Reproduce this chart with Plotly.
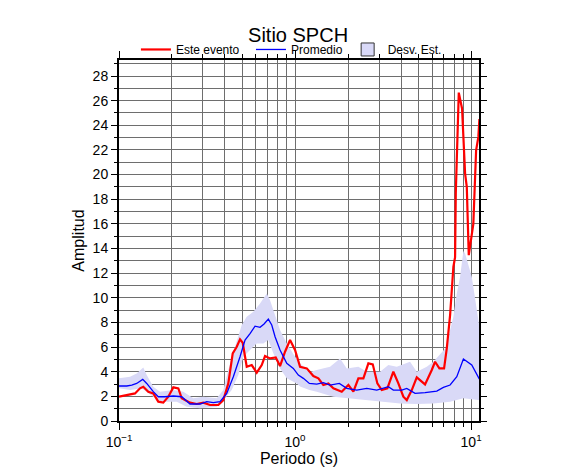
import plotly.graph_objects as go

# Este evento (red)
red_p = [0.100, 0.1155, 0.1233, 0.1316, 0.1374, 0.1467, 0.1566, 0.1672, 0.1785, 0.1906,
         0.2035, 0.2173, 0.2271, 0.2532, 0.2764, 0.3013, 0.3289, 0.3667, 0.3914, 0.4178,
         0.4426, 0.4666, 0.4870, 0.5045, 0.5316, 0.5675, 0.6059, 0.6469, 0.6753, 0.7211,
         0.7768, 0.8219, 0.8774, 0.9368, 1.000, 1.068, 1.166, 1.271, 1.357, 1.448,
         1.546, 1.651, 1.842, 2.009, 2.145, 2.290, 2.445, 2.610, 2.764, 2.935,
         3.109, 3.345, 3.618, 3.863, 4.124, 4.312, 4.604, 4.915, 5.477, 5.980,
         6.244, 6.605, 7.025, 7.277, 7.599, 7.934, 8.112, 8.186, 8.360, 8.514,
         8.890, 9.245, 9.454, 9.703, 10.30, 10.68, 11.00, 11.15]
red_a = [1.97, 2.16, 2.24, 2.65, 2.78, 2.38, 2.24, 1.57, 1.49, 1.97,
         2.73, 2.65, 1.84, 1.49, 1.38, 1.49, 1.30, 1.30, 1.70, 3.05,
         5.49, 6.03, 6.63, 6.35, 4.40, 4.54, 3.92, 4.54, 5.27, 5.08,
         5.16, 4.46, 5.62, 6.57, 5.76, 4.40, 4.27, 3.65, 3.46, 2.92,
         3.05, 2.65, 2.38, 2.92, 2.38, 3.46, 3.46, 4.68, 4.60, 3.05,
         2.51, 2.65, 4.00, 3.05, 1.97, 1.70, 2.51, 3.54, 2.97, 4.14,
         4.81, 4.27, 4.27, 5.90, 8.60, 12.5, 13.3, 18.5, 23.9, 26.65,
         25.35, 20.1, 19.0, 13.46, 16.0, 21.97, 23.06, 24.5]

# Promedio (blue)
blue_p = [0.100, 0.1106, 0.1181, 0.1260, 0.1364, 0.1437, 0.1566, 0.1672, 0.1825, 0.2035,
          0.2271, 0.2532, 0.2886, 0.3150, 0.3434, 0.3749, 0.4093, 0.4461, 0.4870, 0.5199,
          0.5550, 0.5926, 0.6326, 0.6668, 0.7052, 0.7374, 0.7701, 0.8219, 0.8972, 0.9779,
          1.044, 1.115, 1.206, 1.328, 1.448, 1.581, 1.785, 1.967, 2.241, 2.556,
          2.912, 3.389, 3.618, 4.040, 4.312, 4.806, 5.477, 6.386, 6.960, 7.599,
          8.295, 9.044, 10.09, 11.00, 11.15]
blue_a = [2.84, 2.84, 2.92, 3.05, 3.38, 3.05, 2.38, 1.97, 1.97, 2.03,
          1.97, 1.38, 1.38, 1.57, 1.49, 1.57, 2.24, 3.59, 5.22, 6.57,
          7.10, 7.70, 7.60, 7.87, 8.27, 7.79, 6.84, 5.76, 4.68, 4.27,
          3.73, 3.46, 3.05, 3.00, 3.11, 2.92, 3.05, 2.65, 2.51, 2.65,
          2.51, 2.78, 2.51, 2.51, 2.65, 2.24, 2.30, 2.43, 2.73, 2.92,
          3.59, 5.03, 4.54, 3.59, 3.40]

# Desv. Est. band (upper / lower envelopes)
up_p = [0.100, 0.1155, 0.1260, 0.1374, 0.1437, 0.1566, 0.1710, 0.2035, 0.2319, 0.2644,
        0.3013, 0.3591, 0.3914, 0.4178, 0.4561, 0.4980, 0.5316, 0.5797, 0.6326, 0.6907,
        0.7211, 0.7701, 0.8219, 0.8972, 1.000, 1.068, 1.206, 1.328, 1.581, 1.802,
        1.967, 2.290, 2.556, 3.041, 3.389, 3.783, 4.501, 4.915, 5.601, 6.107,
        6.960, 7.277, 7.599, 7.934, 8.295, 8.661, 9.044, 9.245, 10.09, 10.78, 11.15]
up_a = [3.46, 3.59, 3.86, 4.35, 3.73, 2.78, 2.38, 2.51, 2.38, 1.84,
        1.97, 1.84, 2.51, 4.14, 6.03, 7.79, 8.46, 8.86, 9.54, 10.35,
        9.81, 8.60, 7.38, 6.30, 5.22, 4.68, 3.95, 4.14, 4.40, 5.08,
        4.27, 4.40, 4.00, 4.00, 4.54, 4.40, 4.81, 4.00, 4.40, 4.81,
        5.76, 6.03, 7.38, 8.46, 10.35, 11.7, 13.8, 13.6, 11.7, 9.0, 7.65]
lo_p = [0.100, 0.1155, 0.1346, 0.1566, 0.1748, 0.2128, 0.2425, 0.2886, 0.3591, 0.4003,
        0.4368, 0.4763, 0.5085, 0.5550, 0.6059, 0.6604, 0.7052, 0.7530, 0.8219, 0.8972,
        1.023, 1.068, 1.206, 1.328, 1.651, 2.054, 2.556, 3.175, 3.953, 4.915,
        6.107, 7.599, 9.044, 11.00, 11.15]
lo_a = [2.65, 2.51, 2.65, 1.97, 1.57, 1.57, 1.16, 1.03, 1.16, 1.84,
        2.51, 3.73, 5.22, 5.76, 6.30, 6.30, 6.57, 5.49, 4.27, 3.46,
        3.05, 2.80, 2.51, 2.38, 1.97, 1.84, 1.70, 1.57, 1.43, 1.38,
        1.43, 1.57, 1.84, 1.70, 1.70]

band_fill = "#d9d9f7"
grid_c = "#6e6e6e"

fig = go.Figure()
fig.add_trace(go.Scatter(
    x=up_p + lo_p[::-1], y=up_a + lo_a[::-1], fill="toself", fillcolor=band_fill,
    mode="lines", line=dict(width=0, color=band_fill), showlegend=False, hoverinfo="skip"))
fig.add_trace(go.Scatter(x=red_p, y=red_a, mode="lines", name="Este evento\u00a0\u00a0",
                         line=dict(color="#ff0000", width=2.2)))
fig.add_trace(go.Scatter(x=blue_p, y=blue_a, mode="lines", name="Promedio",
                         line=dict(color="#0000ff", width=1.3)))
# legend entry for the band
fig.add_trace(go.Scatter(x=[None], y=[None], mode="markers", name="Desv. Est.",
                         marker=dict(symbol="square", size=13, color=band_fill,
                                     line=dict(color="#333333", width=1))))

minor_x = [m * 10.0 ** e for e in (-1, 0, 1) for m in range(2, 10) if m * 10.0 ** e < 11.2]

fig.update_layout(
    width=586, height=475,
    margin=dict(l=111, r=115, t=52, b=62, autoexpand=False),
    paper_bgcolor="white", plot_bgcolor="white",
    font=dict(family="Liberation Sans, Arial, sans-serif", color="black", size=13),
    title=dict(text="Sitio SPCH", x=0.495, xanchor="center", y=0.944, yanchor="middle",
               font=dict(size=20)),
    legend=dict(orientation="h", x=0.047, xanchor="left", y=0.989, yanchor="bottom",
                font=dict(size=12), bgcolor="rgba(0,0,0,0)", itemwidth=30,
                tracegroupgap=0, traceorder="normal"),
    showlegend=True,
)
fig.update_xaxes(
    type="log", range=[-1, 1.045], automargin=False,
    tickmode="array", tickvals=[0.1, 1, 10],
    ticktext=["10<sup>\u22121</sup>", "10<sup>0</sup>", "10<sup>1</sup>"],
    ticks="outside", ticklen=7, tickwidth=1, tickcolor="black",
    showgrid=True, gridcolor=grid_c, gridwidth=1,
    minor=dict(tickmode="array", tickvals=minor_x, ticks="outside", ticklen=4,
               tickcolor="black", showgrid=True, gridcolor=grid_c, gridwidth=1),
    showline=True, linecolor="black", linewidth=2, mirror="ticks",
    title=dict(text="Periodo (s)", font=dict(size=16), standoff=0),
    zeroline=False, tickfont=dict(size=14),
)
fig.update_yaxes(
    range=[0, 29.3], tickmode="linear", tick0=0, dtick=2, automargin=False,
    ticks="outside", ticklen=6, tickwidth=1, tickcolor="black",
    showgrid=True, gridcolor=grid_c, gridwidth=1,
    minor=dict(dtick=1, ticks="outside", ticklen=3, tickcolor="black",
               showgrid=True, gridcolor=grid_c, gridwidth=1),
    showline=True, linecolor="black", linewidth=2, mirror="ticks",
    title=dict(text="Amplitud", font=dict(size=16), standoff=4),
    zeroline=False, tickfont=dict(size=14),
)

fig.write_html("out.html")
